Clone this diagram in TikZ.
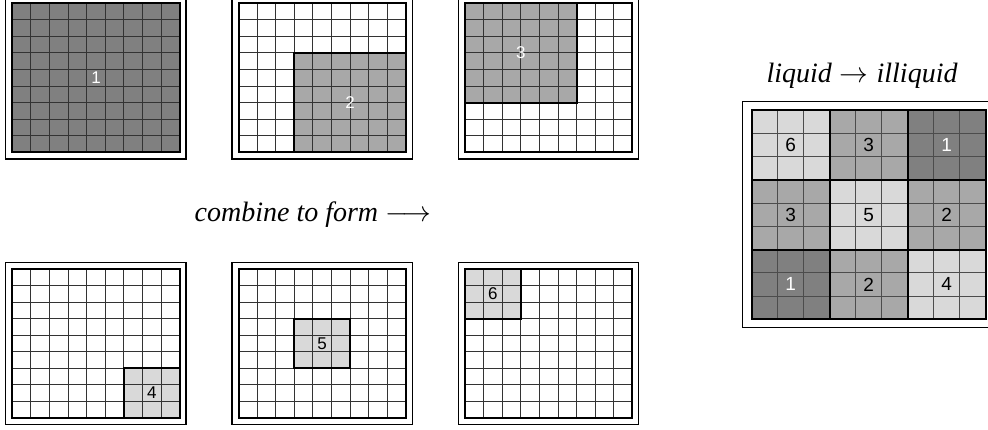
\documentclass[tikz,border=0pt]{standalone}
\usepackage{fontspec}
\setmainfont{Liberation Serif}
\setsansfont{Liberation Sans}
\usepackage{tikz}
\colorlet{darkcell}{black!50}
\colorlet{midcell}{black!34}
\colorlet{lightcell}{black!15}

\begin{document}
\begin{tikzpicture}[x=0.5pt,y={(0,-0.5pt)},
  cellunits/.style={x=9.3pt,y={(0,-8.275pt)}},
  bigcellunits/.style={x=13pt,y={(0,-11.63pt)}},
  panelbox/.style={draw=black,line width=0.6pt},
  gridline/.style={draw=black!80,line width=0.5pt},
  biggridline/.style={draw=black!70,line width=0.5pt},
  frame/.style={draw=black,line width=1pt},
  num/.style={font=\sffamily\fontsize{8.5}{8.5}\selectfont},
  bignum/.style={font=\sffamily\fontsize{9.5}{9.5}\selectfont},
  caption/.style={font=\fontsize{14}{16}\selectfont,inner sep=0pt}]
\useasboundingbox (0,0) rectangle (988,429);

% Top row: 1, 2, 3
\begin{scope}[shift={(12.3,3.3)}]
\draw[panelbox] (-6.5,-6.7) rectangle (173.7,155.7);
\begin{scope}[cellunits]
\fill[darkcell] (0,0) rectangle (9,9);
\foreach \i in {1,...,8} {\draw[gridline] (\i,0) -- (\i,9); \draw[gridline] (0,\i) -- (9,\i);}
\draw[frame] (0,0) rectangle (9,9);
\node[num,white] (p1) at (4.5,4.5) {1};
\end{scope}
\end{scope}

\begin{scope}[shift={(238.5,3.3)}]
\draw[panelbox] (-6.5,-6.7) rectangle (173.7,155.7);
\begin{scope}[cellunits]
\fill[midcell] (3,3) rectangle (9,9);
\foreach \i in {1,...,8} {\draw[gridline] (\i,0) -- (\i,9); \draw[gridline] (0,\i) -- (9,\i);}
\draw[frame] (3,3) rectangle (9,9);
\draw[frame] (0,0) rectangle (9,9);
\node[num,white] (p2) at (6,6) {2};
\end{scope}
\end{scope}

\begin{scope}[shift={(465,3.3)}]
\draw[panelbox] (-6.5,-6.7) rectangle (173.7,155.7);
\begin{scope}[cellunits]
\fill[midcell] (0,0) rectangle (6,6);
\foreach \i in {1,...,8} {\draw[gridline] (\i,0) -- (\i,9); \draw[gridline] (0,\i) -- (9,\i);}
\draw[frame] (0,0) rectangle (6,6);
\draw[frame] (0,0) rectangle (9,9);
\node[num,white] (p3) at (3,3) {3};
\end{scope}
\end{scope}

% Bottom row: 4, 5, 6
\begin{scope}[shift={(12.3,269)}]
\draw[panelbox] (-6.5,-6.7) rectangle (173.7,155.7);
\begin{scope}[cellunits]
\fill[lightcell] (6,6) rectangle (9,9);
\foreach \i in {1,...,8} {\draw[gridline] (\i,0) -- (\i,9); \draw[gridline] (0,\i) -- (9,\i);}
\draw[frame] (6,6) rectangle (9,9);
\draw[frame] (0,0) rectangle (9,9);
\node[num] (p4) at (7.5,7.5) {4};
\end{scope}
\end{scope}

\begin{scope}[shift={(238.5,269)}]
\draw[panelbox] (-6.5,-6.7) rectangle (173.7,155.7);
\begin{scope}[cellunits]
\fill[lightcell] (3,3) rectangle (6,6);
\foreach \i in {1,...,8} {\draw[gridline] (\i,0) -- (\i,9); \draw[gridline] (0,\i) -- (9,\i);}
\draw[frame] (3,3) rectangle (6,6);
\draw[frame] (0,0) rectangle (9,9);
\node[num] (p5) at (4.5,4.5) {5};
\end{scope}
\end{scope}

\begin{scope}[shift={(465,269)}]
\draw[panelbox] (-6.5,-6.7) rectangle (173.7,155.7);
\begin{scope}[cellunits]
\fill[lightcell] (0,0) rectangle (3,3);
\foreach \i in {1,...,8} {\draw[gridline] (\i,0) -- (\i,9); \draw[gridline] (0,\i) -- (9,\i);}
\draw[frame] (0,0) rectangle (3,3);
\draw[frame] (0,0) rectangle (9,9);
\node[num] (p6) at (1.5,1.5) {6};
\end{scope}
\end{scope}

\node[caption,anchor=base east] (combine) at (432,221) {\textit{combine to form} $\longrightarrow$};

% Combined panel
\node[caption,anchor=base] (liquid) at (862,82) {$\textit{liquid}\rightarrow\textit{illiquid}$};
\begin{scope}[shift={(751.7,110)}]
\draw[panelbox] (-9,-8.3) rectangle (243,217.3);
\begin{scope}[bigcellunits]
\foreach \bx/\by/\shade/\lab/\tc in {0/0/lightcell/6/black, 1/0/midcell/3/black, 2/0/darkcell/1/white,
    0/1/midcell/3/black, 1/1/lightcell/5/black, 2/1/midcell/2/black,
    0/2/darkcell/1/white, 1/2/midcell/2/black, 2/2/lightcell/4/black} {
  \fill[\shade] (3*\bx,3*\by) rectangle ++(3,3);
  \node[bignum,text=\tc] (b\bx\by) at (3*\bx+1.5,3*\by+1.5) {\lab};
}
\foreach \i in {1,2,4,5,7,8} {\draw[biggridline] (\i,0) -- (\i,9); \draw[biggridline] (0,\i) -- (9,\i);}
\foreach \i in {3,6} {\draw[frame] (\i,0) -- (\i,9); \draw[frame] (0,\i) -- (9,\i);}
\draw[frame] (0,0) rectangle (9,9);
\end{scope}
\end{scope}
\end{tikzpicture}
\end{document}
